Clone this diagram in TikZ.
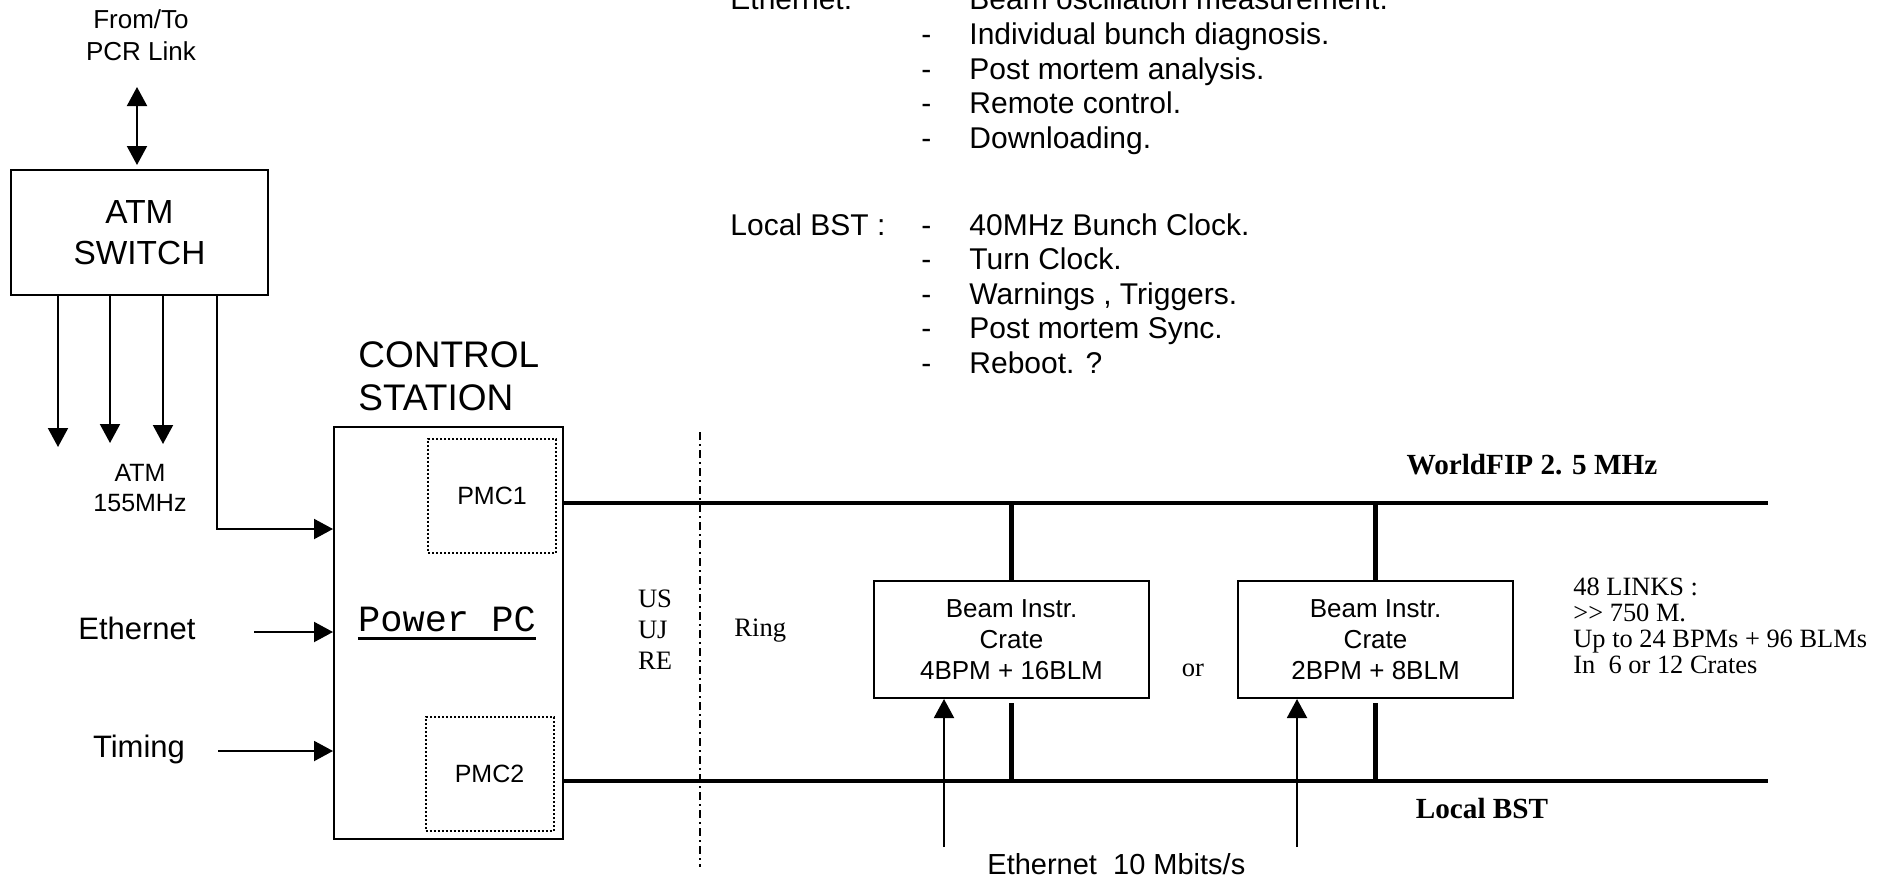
\documentclass[tikz,border=0pt]{standalone}
\usepackage{fontspec}
\setmainfont{Liberation Sans}
\newfontfamily\timesfont{Liberation Serif}
\newfontfamily\courierfont{Liberation Mono}
\usetikzlibrary{arrows.meta,positioning,calc}
\newcommand{\fsz}[2]{\fontsize{#1}{#2}\selectfont}

\tikzset{
  box/.style={draw,line width=1pt,inner sep=0pt},
  pmcbox/.style={draw,densely dotted,line width=1pt,inner sep=0pt,minimum width=64pt,minimum height=57pt,font=\fsz{12.5}{15}},
  cratebox/.style={box,minimum width=137.5pt,minimum height=58.5pt,align=center,font=\fsz{13}{15.5}},
  bus/.style={line width=2.2pt},
  wire/.style={line width=1pt,-{Triangle[length=9.5pt,width=10pt]}},
  serif/.style={font=\timesfont\fsz{13.3}{15.5}},
  toptext/.style={anchor=base west,inner sep=0pt,font=\fsz{15}{17}},
}

\begin{document}
\begin{tikzpicture}[x=0.5pt,y=-0.5pt]
  \useasboundingbox (0,0) rectangle (1888,878);
  \clip (0,0) rectangle (1888,878);
  \fill[white] (0,0) rectangle (1888,878);

  % ATM switch and its links
  \node[box,minimum width=128.5pt,minimum height=62.5pt,align=center,font=\fsz{16.7}{20.5}] (atm) at (139.5,232.5) {ATM\\SWITCH};
  \node[align=center,font=\fsz{13}{16}] (pcr) at (141,35) {From/To\\PCR Link};
  \coordinate (pcrtip) at (137,87);
  \draw[line width=1pt,{Triangle[length=9.5pt,width=10pt]}-{Triangle[length=9.5pt,width=10pt]},shorten >=2pt] (pcrtip) -- (atm.north -| pcrtip);
  \foreach \x/\y in {58/447,110/443,163/444}{
    \coordinate (atmout\x) at (\x,\y);
    \draw[wire] (atm.south -| atmout\x) -- (atmout\x);
  }
  \node[align=center,font=\fsz{12.5}{15}] (atmrate) at (140,488) {ATM\\155MHz};

  % control station
  \node[box,minimum width=114.5pt,minimum height=206pt] (cs) at (448.5,633) {};
  \node[anchor=north west,inner sep=0pt,align=left,font=\fsz{18.5}{21.75}] (cstitle) at (358,341) {CONTROL\\STATION};
  \node[pmcbox] (pmc1) at (492,495.5) {PMC1};
  \node[pmcbox] (pmc2) at (489.5,774) {PMC2};
  \node[inner sep=0pt,font=\courierfont\fsz{18.5}{20}] (ppc) at (447,619) {Power PC};
  \draw[line width=1.4pt] ([yshift=-3.5pt]ppc.base west) -- ([yshift=-3.5pt]ppc.base east);

  \coordinate (atmbend) at (217,529);
  \draw[wire] (atm.south -| atmbend) -- (atmbend) -- (atmbend -| cs.west);
  \node[font=\fsz{15.5}{18}] (ethin) at (137,628) {Ethernet};
  \coordinate (ethtail) at (254,632);
  \draw[wire] (ethtail) -- (ethtail -| cs.west);
  \node[font=\fsz{15.5}{18}] (timin) at (139,749) {Timing};
  \coordinate (timtail) at (218,751);
  \draw[wire] (timtail) -- (timtail -| cs.west);

  % boundary surface / ring
  \coordinate (divtop) at (700,432);
  \coordinate (divbot) at (700,867);
  \draw[line width=1pt,dash pattern=on 4pt off 2pt on 1pt off 2pt] (divtop) -- (divbot);
  \node[serif,align=left,inner sep=0pt] (zone) at (655,630) {US\\UJ\\RE};
  \node[serif,anchor=west,inner sep=0pt] (ring) at (734,631) {Ring};

  % buses
  \coordinate (fipend) at (1768,503);
  \coordinate (bstend) at (1768,781);
  \draw[bus] (cs.east |- fipend) -- (fipend);
  \draw[bus] (cs.east |- bstend) -- (bstend);
  \node[font=\timesfont\bfseries\fsz{14.6}{17}] (fiplbl) at (1532,465) {WorldFIP 2. 5 MHz};
  \node[font=\timesfont\bfseries\fsz{14.6}{17}] (bstlbl) at (1482,808) {Local BST};

  % crates
  \node[cratebox] (crate1) at (1011.5,639.5) {Beam Instr.\\Crate\\4BPM + 16BLM};
  \node[cratebox] (crate2) at (1375.5,639.5) {Beam Instr.\\Crate\\2BPM + 8BLM};
  \node[serif] (or) at (1193,670) {or};
  \foreach \c in {crate1,crate2}{
    \draw[bus] (\c.north) -- (\c.north |- fipend);
    \draw[bus] ([yshift=-2pt]\c.south) -- (\c.south |- bstend);
  }
  \coordinate (eth1) at (944,847);
  \coordinate (eth2) at (1297,847);
  \draw[wire] (eth1) -- (eth1 |- crate1.south);
  \draw[wire] (eth2) -- (eth2 |- crate2.south);
  \node[anchor=west,inner sep=0pt,font=\fsz{14.5}{17}] (ethbus) at (987,864) {Ethernet\ \ 10 Mbits/s};

  \node[anchor=west,inner sep=0pt,align=left,font=\timesfont\fsz{13.2}{13}] (links) at (1573,626) {48 LINKS :\\>\kern0pt> 750 M.\\Up to 24 BPMs + 96 BLMs\\In\ \ 6 or 12 Crates};

  % services list
  \node[toptext] (ethhead) at (730,10) {Ethernet:};
  \foreach \txt [count=\i from 0] in {Beam oscillation measurement.,Individual bunch diagnosis.,Post mortem analysis.,Remote control.,Downloading.}{
    \node[toptext] (ethitem\i) at (969,{10+34.5*\i}) {\txt};
    \ifnum\i>0 \node[toptext] at (921,{10+34.5*\i}) {-};\fi
  }
  \node[toptext] (bsthead) at (730,235) {Local BST :};
  \foreach \txt [count=\i from 0] in {40MHz Bunch Clock.,Turn Clock.,{Warnings , Triggers.},Post mortem Sync.,Reboot. ?}{
    \node[toptext] (bstitem\i) at (969,{235+34.5*\i}) {\txt};
    \node[toptext] at (921,{235+34.5*\i}) {-};
  }
\end{tikzpicture}
\end{document}
